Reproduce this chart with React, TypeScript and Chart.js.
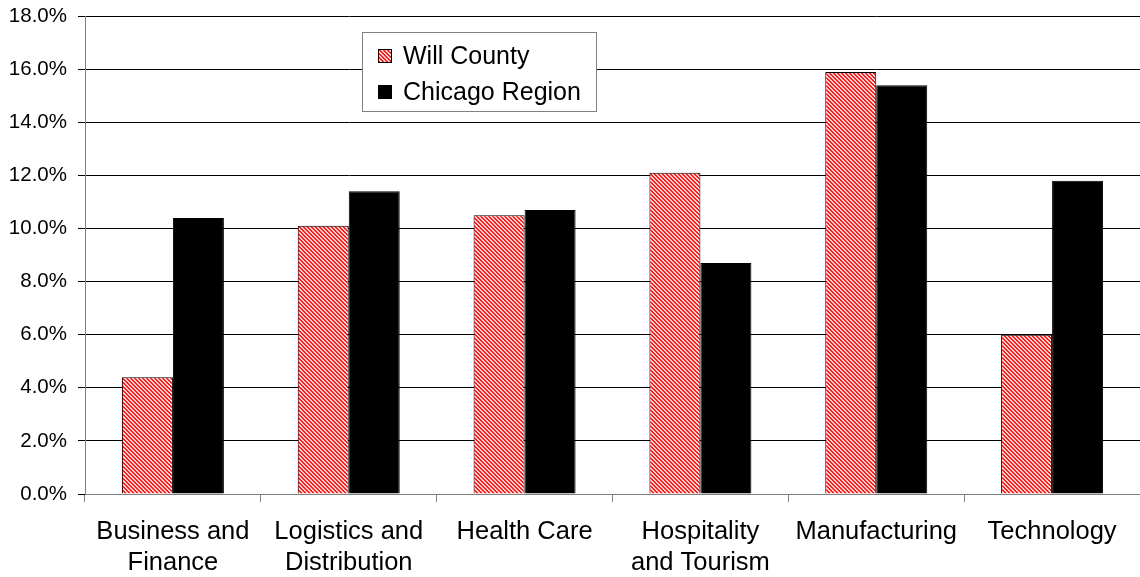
import React, { useEffect, useRef } from "react";
import { Chart, registerables } from "chart.js";

Chart.register(...registerables);

const categories: (string | string[])[] = [
  ["Business and", "Finance"],
  ["Logistics and", "Distribution"],
  "Health Care",
  ["Hospitality", "and Tourism"],
  "Manufacturing",
  "Technology",
];
const willCounty = [4.4, 10.1, 10.5, 12.1, 15.9, 6.0];
const chicagoRegion = [10.4, 11.4, 10.7, 8.7, 15.4, 11.8];
const seriesNames = ["Will County", "Chicago Region"];
const yMin = 0;
const yMax = 18;
const yStep = 2;

function makeHatch(): CanvasPattern | string {
  const c = document.createElement("canvas");
  c.width = 4;
  c.height = 4;
  const ctx = c.getContext("2d");
  if (!ctx) return "#f08080";
  ctx.fillStyle = "#ffd4d4";
  ctx.fillRect(0, 0, 4, 4);
  ctx.fillStyle = "#ff1a1a";
  for (let y = 0; y < 4; y++) {
    for (let x = 0; x < 4; x++) {
      if ((((x - y) % 4) + 4) % 4 < 2) ctx.fillRect(x, y, 1, 1);
    }
  }
  const p = ctx.createPattern(c, "repeat");
  return p || "#f08080";
}

const FONT = "'Liberation Sans', Arial, sans-serif";

export default function App() {
  const ref = useRef<HTMLCanvasElement | null>(null);
  const hatchRef = useRef<HTMLCanvasElement | null>(null);

  useEffect(() => {
    if (!ref.current) return;
    const hatch = makeHatch();
    if (hatchRef.current) {
      const sctx = hatchRef.current.getContext("2d");
      if (sctx) {
        sctx.fillStyle = hatch as any;
        sctx.fillRect(0, 0, 14, 14);
        sctx.strokeStyle = "#000";
        sctx.lineWidth = 1;
        sctx.strokeRect(0.5, 0.5, 13, 13);
      }
    }
    const chart = new Chart(ref.current, {
      type: "bar",
      data: {
        labels: categories,
        datasets: [
          {
            label: seriesNames[0],
            data: willCounty,
            backgroundColor: hatch as any,
            borderColor: "#000000",
            borderWidth: 1,
            categoryPercentage: 0.58,
            barPercentage: 1.0,
          },
          {
            label: seriesNames[1],
            data: chicagoRegion,
            backgroundColor: "#000000",
            borderColor: "#000000",
            borderWidth: 1,
            categoryPercentage: 0.58,
            barPercentage: 1.0,
          },
        ],
      },
      options: {
        animation: false,
        responsive: false,
        maintainAspectRatio: false,
        layout: { padding: { top: 15, right: 0, left: 0, bottom: 0 } },
        plugins: {
          legend: { display: false },
          tooltip: { enabled: false },
        },
        scales: {
          x: {
            offset: true,
            grid: {
              offset: true,
              drawOnChartArea: false,
              drawTicks: true,
              tickLength: 8,
              color: "#808080",
            },
            border: { color: "#808080", width: 1 },
            ticks: {
              color: "#000",
              font: { family: FONT, size: 25.5, lineHeight: 1.22 },
              padding: 14,
              maxRotation: 0,
              autoSkip: false,
            },
            afterFit: (s: any) => {
              s.height = 83;
            },
          },
          y: {
            min: yMin,
            max: yMax,
            ticks: {
              stepSize: yStep,
              color: "#000",
              font: { family: FONT, size: 20.5, lineHeight: 0.5 },
              padding: 11,
              callback: (v: any) => Number(v).toFixed(1) + "%",
            },
            grid: {
              color: "#000000",
              lineWidth: 1,
              drawTicks: true,
              tickLength: 7,
            },
            border: { color: "#808080", width: 1 },
            afterFit: (s: any) => {
              s.width = 85;
            },
          },
        },
      },
    });
    return () => chart.destroy();
  }, []);

  return (
    <div
      style={{
        position: "fixed",
        left: 0,
        top: 0,
        width: 1140,
        height: 577,
        background: "#fff",
      }}
    >
      <canvas ref={ref} width={1140} height={577} style={{ display: "block" }} />
      <div
        style={{
          position: "absolute",
          left: 362,
          top: 32,
          width: 233,
          height: 78,
          border: "1px solid #808080",
          background: "#fff",
          fontFamily: FONT,
          fontSize: 25,
          color: "#000",
        }}
      >
        <div style={{ position: "absolute", left: 15, top: 8, display: "flex", alignItems: "center", whiteSpace: "nowrap" }}>
          <canvas ref={hatchRef} width={14} height={14} style={{ display: "block", marginRight: 11 }} />
          <span>{seriesNames[0]}</span>
        </div>
        <div style={{ position: "absolute", left: 15, top: 44, display: "flex", alignItems: "center", whiteSpace: "nowrap" }}>
          <div style={{ width: 14, height: 14, background: "#000", marginRight: 11 }} />
          <span>{seriesNames[1]}</span>
        </div>
      </div>
    </div>
  );
}
